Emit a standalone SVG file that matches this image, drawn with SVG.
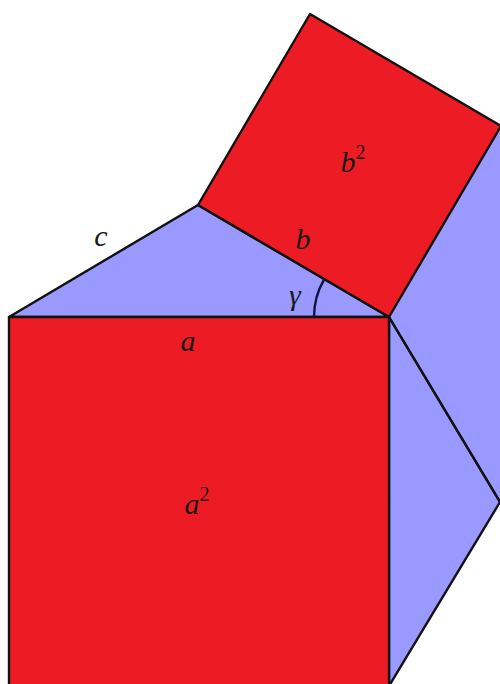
<svg xmlns="http://www.w3.org/2000/svg" width="500" height="684" viewBox="0 0 500 684">
<style>
.red{fill:#ED1C24;stroke:#111;stroke-width:2.4;stroke-linejoin:round}
.blue{fill:#9999FF;stroke:#111;stroke-width:2.4;stroke-linejoin:round}
.lbl{font-family:"Liberation Serif",serif;font-style:italic;font-size:30px;fill:#1a1a1a;text-anchor:middle}
.sup{font-size:20px;font-style:normal}
.edge{fill:none;stroke:#111;stroke-width:2.4}
</style>
<rect width="500" height="684" fill="#fff"/>
<g id="right-upper">
<polygon points="389,317 501,126 505,126 505,505 500,502" fill="#9999FF"/>
</g>
<g id="right-lower">
<polygon class="blue" points="389,317 500,502 389,686"/>
</g>
<g id="triangle">
<polygon class="blue" points="9,317 198,205 389,317"/>
</g>
<g id="square-b">
<polygon class="red" points="198,205 310,14 501,126 389,317"/>
<text class="lbl" x="353" y="172">b<tspan class="sup" dy="-13">2</tspan></text>
</g>
<g id="square-a">
<rect class="red" x="9" y="317" width="380" height="380"/>
<text class="lbl" x="197" y="514">a<tspan class="sup" dy="-13">2</tspan></text>
</g>
<g id="connectors">
<line class="edge" x1="389" y1="317" x2="500" y2="502"/>
<path d="M314,317 A75,75 0 0 1 324.3,279.1" fill="none" stroke="#0b1640" stroke-width="2.4"/>
</g>
<g id="labels">
<text class="lbl" x="101" y="246">c</text>
<text class="lbl" x="303" y="249">b</text>
<text class="lbl" x="295" y="305">γ</text>
<text class="lbl" x="188" y="351">a</text>
</g>
</svg>
